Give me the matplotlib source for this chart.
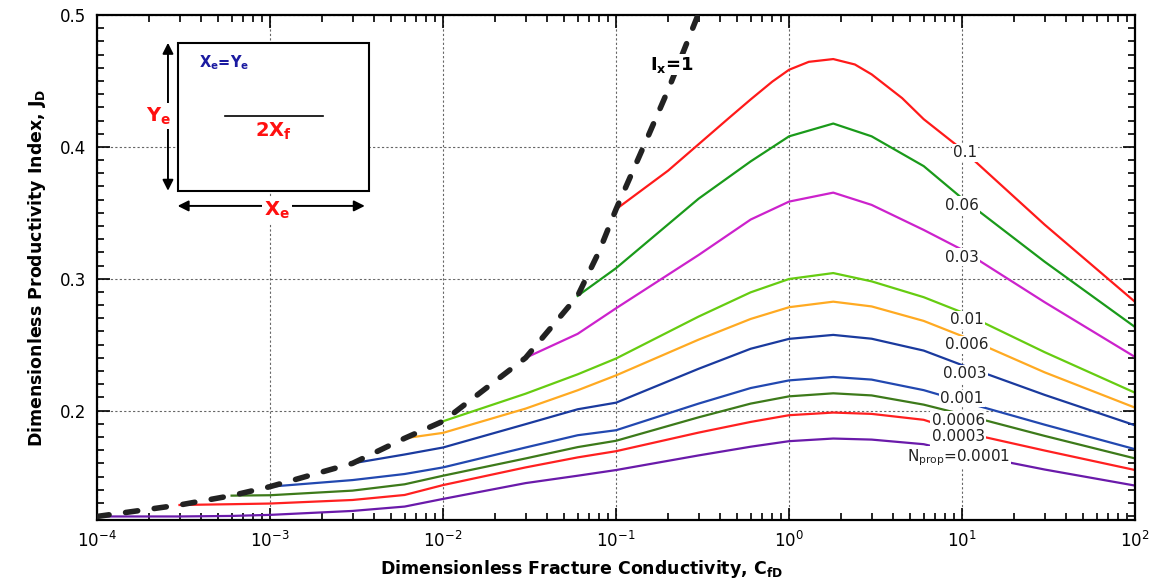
import matplotlib
matplotlib.use("Agg")
import matplotlib.pyplot as plt
import matplotlib.patches as patches
from matplotlib.ticker import MultipleLocator, LogLocator, NullFormatter

# CfD grid shared by the curves; each curve starts at CfD = Nprop (Ix = 1)
cfd = [1e-4, 3e-4, 6e-4, 1e-3, 3e-3, 6e-3, 1e-2, 3e-2, 6e-2, 0.1,
       0.3, 0.6, 1, 1.8, 3, 6, 10, 30, 100]

# the Nprop = 0.1 curve is drawn smooth in the source, so it gets more points
cfd_0p1 = [0.1, 0.2, 0.3, 0.45, 0.6, 0.8, 1, 1.3, 1.8, 2.4, 3, 4.5, 6, 10, 30, 100]
jd_0p1 = [0.3527, 0.382, 0.402, 0.422, 0.436, 0.4495, 0.4585, 0.4645, 0.4666, 0.4625,
          0.455, 0.437, 0.421, 0.398, 0.341, 0.2824]

jd_0p06 = [0.287, 0.308, 0.3607, 0.389, 0.408, 0.4177, 0.408, 0.3854, 0.361, 0.3129, 0.2633]
jd_0p03 = [0.240, 0.2582, 0.2776, 0.318, 0.3449, 0.3585, 0.3653, 0.356, 0.337, 0.322,
           0.2822, 0.2406]
jd_0p01 = [0.1919, 0.2128, 0.2275, 0.2395, 0.2713, 0.2897, 0.2998, 0.3043, 0.298, 0.286,
           0.2745, 0.2443, 0.2135]
jd_0p006 = [0.179, 0.1831, 0.2015, 0.2154, 0.2267, 0.2538, 0.2695, 0.2784, 0.2826, 0.279,
            0.268, 0.2565, 0.229, 0.2022]
jd_0p003 = [0.160, 0.1667, 0.172, 0.1897, 0.201, 0.206, 0.2317, 0.2469, 0.2544, 0.2574,
            0.2545, 0.2455, 0.2345, 0.2119, 0.1888]
jd_0p001 = [0.1423, 0.1473, 0.1519, 0.1569, 0.172, 0.1813, 0.1851, 0.2053, 0.2171, 0.2229,
            0.2255, 0.2235, 0.2155, 0.207, 0.1893, 0.1707]
jd_0p0006 = [0.1355, 0.1358, 0.1393, 0.1441, 0.1506, 0.1637, 0.1723, 0.1771, 0.1949, 0.2053,
             0.2108, 0.2131, 0.2115, 0.2045, 0.1972, 0.1808, 0.1637]
jd_0p0003 = [0.1284, 0.129, 0.1295, 0.1322, 0.136, 0.1435, 0.1569, 0.1645, 0.1692, 0.1833,
             0.1914, 0.1965, 0.1985, 0.1975, 0.193, 0.1837, 0.1697, 0.1549]
jd_0p0001 = [0.1197, 0.1197, 0.1201, 0.1209, 0.1239, 0.1272, 0.133, 0.145, 0.1506, 0.1549,
             0.166, 0.1726, 0.1768, 0.1788, 0.178, 0.1745, 0.1677, 0.1553, 0.1431]

# Ix = 1 envelope
cfd_ix = [1e-4, 3e-4, 6e-4, 1e-3, 3e-3, 6e-3, 1e-2, 3e-2, 6e-2, 0.08, 0.1, 0.15, 0.2, 0.3]
jd_ix = [0.1197, 0.1284, 0.1355, 0.1423, 0.160, 0.179, 0.1919, 0.240, 0.287, 0.321, 0.3527,
         0.4053, 0.4432, 0.5012]

x_decades = [1e-4, 1e-3, 1e-2, 1e-1, 1e0, 1e1, 1e2]

curve_labels = ["0.1", "0.06", "0.03", "0.01", "0.006", "0.003", "0.001",
                "0.0006", "0.0003", r"N$_{\mathrm{prop}}$=0.0001"]
curve_colors = ["#ff1a1a", "#1a9a1a", "#cc22cc", "#66cc11", "#ffaa22",
                "#1a3a9e", "#2248b0", "#3d7a1a", "#ff2020", "#6a1aaa"]
label_x = [10.4, 9.96, 9.96, 10.6, 10.6, 10.4, 10.0, 9.5, 9.5, 9.5]
label_y = [0.3955, 0.3557, 0.3162, 0.2688, 0.2499, 0.228, 0.2091, 0.1927, 0.1801, 0.1645]


def main() -> None:
    series = [jd_0p06, jd_0p03, jd_0p01, jd_0p006, jd_0p003,
              jd_0p001, jd_0p0006, jd_0p0003, jd_0p0001]

    fig = plt.figure(figsize=(11.57, 5.87), dpi=100)
    ax = fig.add_axes([0.0838, 0.1141, 0.8973, 0.8603])

    ax.plot(cfd_0p1, jd_0p1, color=curve_colors[0], lw=1.6, zorder=2)
    for vals, color in zip(series, curve_colors[1:]):
        ax.plot(cfd[-len(vals):], vals, color=color, lw=1.6, zorder=2)

    ax.plot(cfd_ix, jd_ix, color="#222222", lw=4, linestyle=(0, (2.2, 3.0)),
            dash_capstyle="round", zorder=4)

    for txt, x, y in zip(curve_labels, label_x, label_y):
        ax.text(x, y, txt, ha="center", va="center", fontsize=11, color="#222222",
                zorder=5, bbox=dict(fc="white", ec="none", pad=1.0))

    ax.text(0.211, 0.4623, r"$\mathbf{I_x}$=1", ha="center", va="center",
            fontsize=13, fontweight="bold", color="black", zorder=5,
            bbox=dict(fc="white", ec="none", pad=0.3))

    ax.set_xscale("log")
    ax.set_xlim(1e-4, 1e2)
    ax.set_ylim(0.117, 0.5)
    ax.set_xticks(x_decades)
    ax.xaxis.set_minor_locator(LogLocator(base=10, subs=range(2, 10), numticks=20))
    ax.xaxis.set_minor_formatter(NullFormatter())
    ax.yaxis.set_major_locator(MultipleLocator(0.1))
    ax.yaxis.set_minor_locator(MultipleLocator(0.01))

    ax.tick_params(which="both", direction="in", top=True, right=True, width=1.2)
    ax.tick_params(which="major", length=9, labelsize=12, pad=8)
    ax.tick_params(which="minor", length=5)
    for sp in ax.spines.values():
        sp.set_linewidth(1.6)

    ax.grid(True, which="major", linestyle=(0, (2, 2)), color="#666666", lw=0.8)

    ax.set_xlabel(r"Dimensionless Fracture Conductivity, C$_{\mathbf{fD}}$",
                  fontsize=12.5, fontweight="bold", x=0.467, labelpad=5)
    ax.set_ylabel(r"Dimensionless Productivity Index, J$_{\mathbf{D}}$",
                  fontsize=12.5, fontweight="bold", labelpad=8)

    # inset sketch of the drainage area
    tr = ax.transAxes
    ax.add_patch(patches.Rectangle((0.0777, 0.652), 0.1846, 0.293, transform=tr,
                                   fc="white", ec="black", lw=1.5, zorder=6))
    ax.annotate("", xy=(0.0684, 0.945), xytext=(0.0684, 0.652), xycoords=tr,
                arrowprops=dict(arrowstyle="<|-|>", color="black", lw=1.4,
                                mutation_scale=16, shrinkA=0, shrinkB=0), zorder=6)
    ax.annotate("", xy=(0.0777, 0.622), xytext=(0.258, 0.622), xycoords=tr,
                arrowprops=dict(arrowstyle="<|-|>", color="black", lw=1.4,
                                mutation_scale=16, shrinkA=0, shrinkB=0), zorder=6)
    ax.text(0.0597, 0.80, r"$\mathbf{Y_e}$", transform=tr, ha="center", va="center",
            fontsize=14, color="#ff1010", zorder=7,
            bbox=dict(fc="white", ec="none", pad=1.5))
    ax.text(0.1734, 0.614, r"$\mathbf{X_e}$", transform=tr, ha="center", va="center",
            fontsize=14, color="#ff1010", zorder=7,
            bbox=dict(fc="white", ec="none", pad=1.5))
    ax.plot([0.1233, 0.2175], [0.8, 0.8], transform=tr, color="black", lw=1.2, zorder=7)
    ax.text(0.1696, 0.769, r"$\mathbf{2X_f}$", transform=tr, ha="center", va="center",
            fontsize=14, color="#ff1010", zorder=7)
    ax.text(0.098, 0.905, r"$\mathbf{X_e}$=$\mathbf{Y_e}$", transform=tr, ha="left",
            va="center", fontsize=10.5, fontweight="bold", color="#1a1aa0", zorder=7)

    fig.savefig("out.png", dpi=100)


if __name__ == "__main__":
    main()
